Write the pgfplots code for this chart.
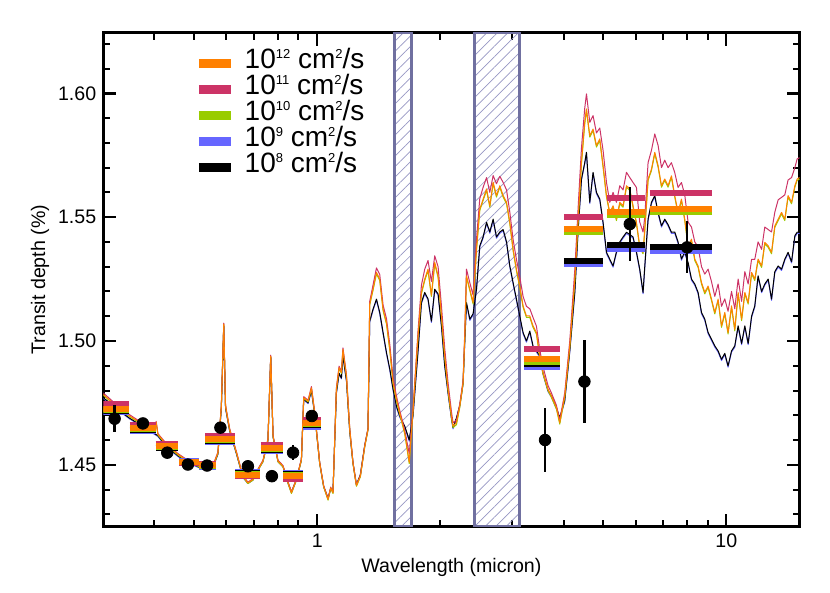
\documentclass[border=0pt]{standalone}
\usepackage{fontspec}
\setmainfont{Liberation Sans}
\usepackage{pgfplots}
\pgfplotsset{compat=1.18}
\usepackage{pgfplotstable}
\usetikzlibrary{patterns.meta}
\definecolor{corange}{RGB}{255,128,0}
\definecolor{cred}{RGB}{204,51,102}
\definecolor{cgreen}{RGB}{153,204,0}
\definecolor{cblue}{RGB}{102,102,255}
\definecolor{bandedge}{RGB}{112,112,160}
\definecolor{bandhatch}{RGB}{150,150,195}
\newcommand\sps[1]{\raisebox{4.8pt}{\fontsize{6.5}{6.5}\selectfont #1}}

\pgfplotstableread{
x or rd gr bk bl
0.300 1.4784 1.4790 1.4781 1.4771 1.4768
0.323 1.4737 1.4743 1.4734 1.4728 1.4725
0.348 1.4697 1.4702 1.4694 1.4688 1.4685
0.375 1.4663 1.4667 1.4660 1.4655 1.4652
0.401 1.4656 1.4659 1.4653 1.4625 1.4622
0.404 1.4672 1.4675 1.4669 1.4622 1.4619
0.408 1.4623 1.4626 1.4620 1.4617 1.4614
0.428 1.4582 1.4585 1.4579 1.4575 1.4572
0.457 1.4542 1.4545 1.4539 1.4536 1.4533
0.483 1.4515 1.4518 1.4512 1.4510 1.4507
0.516 1.4494 1.4497 1.4491 1.4490 1.4487
0.556 1.4494 1.4497 1.4491 1.4490 1.4487
0.572 1.4549 1.4552 1.4546 1.4545 1.4542
0.583 1.4737 1.4740 1.4734 1.4730 1.4727
0.591 1.5068 1.5072 1.5065 1.5060 1.5057
0.597 1.4737 1.4740 1.4734 1.4730 1.4727
0.611 1.4643 1.4646 1.4640 1.4638 1.4635
0.635 1.4549 1.4552 1.4546 1.4545 1.4542
0.658 1.4454 1.4457 1.4451 1.4452 1.4449
0.677 1.4427 1.4430 1.4424 1.4427 1.4424
0.697 1.4441 1.4444 1.4438 1.4441 1.4438
0.717 1.4481 1.4484 1.4478 1.4481 1.4478
0.737 1.4515 1.4518 1.4512 1.4515 1.4512
0.758 1.4602 1.4605 1.4599 1.4600 1.4597
0.770 1.4939 1.4943 1.4936 1.4935 1.4932
0.780 1.4616 1.4619 1.4613 1.4614 1.4611
0.802 1.4515 1.4518 1.4512 1.4515 1.4512
0.825 1.4494 1.4497 1.4491 1.4494 1.4491
0.849 1.4427 1.4430 1.4424 1.4427 1.4424
0.865 1.4387 1.4390 1.4384 1.4390 1.4387
0.890 1.4441 1.4444 1.4438 1.4441 1.4438
0.915 1.4521 1.4524 1.4518 1.4521 1.4518
0.927 1.4771 1.4775 1.4768 1.4765 1.4762
0.950 1.4757 1.4761 1.4754 1.4750 1.4747
0.968 1.4811 1.4816 1.4808 1.4800 1.4797
0.986 1.4710 1.4714 1.4707 1.4705 1.4702
1.014 1.4508 1.4511 1.4505 1.4508 1.4505
1.037 1.4413 1.4416 1.4410 1.4413 1.4410
1.063 1.4360 1.4363 1.4357 1.4365 1.4362
1.079 1.4407 1.4410 1.4404 1.4405 1.4402
1.093 1.4387 1.4390 1.4384 1.4395 1.4392
1.114 1.4805 1.4810 1.4802 1.4790 1.4787
1.131 1.4892 1.4898 1.4889 1.4870 1.4867
1.146 1.4872 1.4878 1.4869 1.4850 1.4847
1.156 1.4966 1.4972 1.4963 1.4940 1.4937
1.179 1.4858 1.4864 1.4855 1.4840 1.4837
1.201 1.4643 1.4648 1.4640 1.4635 1.4632
1.223 1.4508 1.4511 1.4505 1.4508 1.4505
1.247 1.4416 1.4419 1.4413 1.4420 1.4417
1.275 1.4454 1.4457 1.4451 1.4460 1.4457
1.307 1.4575 1.4578 1.4572 1.4580 1.4577
1.331 1.4643 1.4646 1.4640 1.4645 1.4642
1.344 1.5150 1.5160 1.5145 1.5080 1.5075
1.369 1.5209 1.5225 1.5204 1.5128 1.5123
1.396 1.5277 1.5295 1.5271 1.5169 1.5164
1.422 1.5250 1.5268 1.5244 1.5115 1.5110
1.449 1.5128 1.5145 1.5122 1.5034 1.5029
1.477 1.5074 1.5090 1.5068 1.4953 1.4948
1.505 1.4966 1.4985 1.4960 1.4886 1.4881
1.533 1.4832 1.4850 1.4826 1.4805 1.4800
1.562 1.4764 1.4778 1.4758 1.4737 1.4732
1.591 1.4710 1.4720 1.4705 1.4697 1.4692
1.637 1.4629 1.4638 1.4624 1.4656 1.4651
1.679 1.4510 1.4545 1.4505 1.4600 1.4595
1.715 1.4720 1.4725 1.4715 1.4700 1.4695
1.764 1.5020 1.5040 1.5014 1.4960 1.4955
1.798 1.5196 1.5225 1.5190 1.5155 1.5150
1.832 1.5250 1.5290 1.5244 1.5196 1.5191
1.866 1.5290 1.5325 1.5284 1.5170 1.5165
1.902 1.5185 1.5240 1.5180 1.5080 1.5075
1.938 1.5317 1.5344 1.5311 1.5209 1.5204
1.975 1.5263 1.5300 1.5257 1.5190 1.5185
2.013 1.5101 1.5140 1.5095 1.5060 1.5055
2.050 1.4939 1.4970 1.4933 1.4900 1.4895
2.089 1.4805 1.4830 1.4799 1.4790 1.4785
2.129 1.4697 1.4715 1.4691 1.4690 1.4685
2.148 1.4656 1.4670 1.4650 1.4650 1.4645
2.190 1.4670 1.4680 1.4662 1.4690 1.4685
2.231 1.4737 1.4745 1.4731 1.4740 1.4735
2.273 1.4832 1.4840 1.4826 1.4830 1.4825
2.295 1.5020 1.5040 1.5014 1.5000 1.4995
2.317 1.5263 1.5290 1.5257 1.5155 1.5150
2.361 1.5209 1.5235 1.5203 1.5088 1.5083
2.405 1.5155 1.5185 1.5149 1.5110 1.5105
2.451 1.5371 1.5410 1.5365 1.5209 1.5204
2.497 1.5533 1.5575 1.5527 1.5384 1.5379
2.544 1.5573 1.5620 1.5567 1.5420 1.5415
2.594 1.5614 1.5660 1.5608 1.5479 1.5474
2.642 1.5546 1.5600 1.5540 1.5440 1.5435
2.692 1.5641 1.5668 1.5635 1.5492 1.5487
2.743 1.5587 1.5635 1.5581 1.5420 1.5415
2.795 1.5627 1.5665 1.5621 1.5440 1.5435
2.848 1.5587 1.5640 1.5581 1.5450 1.5445
2.903 1.5560 1.5610 1.5554 1.5400 1.5395
2.957 1.5479 1.5520 1.5473 1.5303 1.5298
3.012 1.5371 1.5410 1.5365 1.5236 1.5231
3.069 1.5290 1.5330 1.5284 1.5169 1.5164
3.127 1.5222 1.5260 1.5216 1.5101 1.5096
3.186 1.5142 1.5180 1.5136 1.5034 1.5029
3.247 1.5101 1.5140 1.5095 1.5000 1.4995
3.309 1.5101 1.5130 1.5095 1.5040 1.5035
3.370 1.5061 1.5095 1.5055 1.4980 1.4975
3.435 1.5034 1.5060 1.5028 1.4960 1.4955
3.500 1.4939 1.4965 1.4933 1.4940 1.4935
3.565 1.4872 1.4895 1.4866 1.4870 1.4865
3.667 1.4805 1.4820 1.4799 1.4800 1.4795
3.738 1.4778 1.4790 1.4772 1.4778 1.4773
3.844 1.4731 1.4740 1.4725 1.4731 1.4726
3.917 1.4670 1.4680 1.4664 1.4690 1.4685
4.028 1.4778 1.4790 1.4772 1.4760 1.4755
4.144 1.4980 1.5000 1.4974 1.4960 1.4955
4.264 1.5250 1.5290 1.5244 1.5200 1.5195
4.344 1.5492 1.5540 1.5486 1.5452 1.5447
4.426 1.5722 1.5780 1.5716 1.5654 1.5649
4.508 1.5883 1.5940 1.5877 1.5720 1.5715
4.552 1.5937 1.5998 1.5931 1.5762 1.5757
4.638 1.5829 1.5883 1.5823 1.5560 1.5555
4.724 1.5856 1.5910 1.5850 1.5681 1.5676
4.815 1.5789 1.5840 1.5783 1.5600 1.5595
4.906 1.5816 1.5860 1.5810 1.5573 1.5568
4.998 1.5708 1.5770 1.5702 1.5479 1.5474
5.095 1.5587 1.5640 1.5581 1.5358 1.5353
5.191 1.5519 1.5560 1.5513 1.5330 1.5325
5.287 1.5546 1.5600 1.5540 1.5303 1.5298
5.389 1.5492 1.5560 1.5486 1.5360 1.5355
5.491 1.5560 1.5627 1.5554 1.5400 1.5395
5.594 1.5546 1.5610 1.5540 1.5420 1.5415
5.702 1.5627 1.5681 1.5621 1.5439 1.5434
5.809 1.5614 1.5660 1.5608 1.5430 1.5425
5.917 1.5546 1.5640 1.5540 1.5420 1.5415
6.031 1.5479 1.5620 1.5473 1.5360 1.5355
6.144 1.5384 1.5480 1.5378 1.5290 1.5285
6.260 1.5358 1.5440 1.5352 1.5196 1.5191
6.320 1.5450 1.5500 1.5444 1.5300 1.5295
6.439 1.5654 1.5720 1.5648 1.5492 1.5487
6.563 1.5694 1.5770 1.5688 1.5560 1.5555
6.687 1.5762 1.5836 1.5756 1.5587 1.5582
6.812 1.5708 1.5790 1.5702 1.5519 1.5514
6.944 1.5627 1.5700 1.5621 1.5465 1.5460
7.073 1.5654 1.5730 1.5648 1.5492 1.5487
7.206 1.5627 1.5700 1.5621 1.5470 1.5465
7.345 1.5667 1.5720 1.5661 1.5439 1.5434
7.483 1.5587 1.5680 1.5581 1.5440 1.5435
7.624 1.5519 1.5620 1.5513 1.5400 1.5395
7.771 1.5573 1.5640 1.5567 1.5331 1.5326
7.916 1.5492 1.5590 1.5486 1.5360 1.5355
8.065 1.5384 1.5480 1.5378 1.5317 1.5312
8.221 1.5411 1.5460 1.5405 1.5250 1.5245
8.375 1.5331 1.5400 1.5325 1.5230 1.5225
8.533 1.5303 1.5380 1.5297 1.5196 1.5191
8.698 1.5236 1.5300 1.5230 1.5115 1.5110
8.860 1.5196 1.5270 1.5190 1.5088 1.5083
9.027 1.5222 1.5290 1.5216 1.5034 1.5029
9.201 1.5169 1.5240 1.5163 1.5007 1.5002
9.374 1.5115 1.5180 1.5109 1.4980 1.4975
9.550 1.5169 1.5230 1.5163 1.4960 1.4955
9.735 1.5061 1.5140 1.5055 1.4926 1.4921
9.916 1.5115 1.5170 1.5109 1.4950 1.4945
10.10 1.5034 1.5120 1.5028 1.4899 1.4894
10.30 1.5142 1.5200 1.5136 1.4960 1.4955
10.49 1.5047 1.5130 1.5041 1.4980 1.4975
10.69 1.5196 1.5250 1.5190 1.5061 1.5056
10.90 1.5088 1.5160 1.5082 1.4990 1.4985
11.10 1.5196 1.5280 1.5190 1.5061 1.5056
11.31 1.5155 1.5230 1.5149 1.4990 1.4985
11.53 1.5277 1.5330 1.5271 1.5100 1.5095
11.74 1.5250 1.5330 1.5244 1.5142 1.5137
11.96 1.5331 1.5400 1.5325 1.5263 1.5258
12.20 1.5303 1.5370 1.5297 1.5200 1.5195
12.42 1.5398 1.5460 1.5392 1.5230 1.5225
12.66 1.5384 1.5450 1.5378 1.5250 1.5245
12.90 1.5358 1.5440 1.5352 1.5169 1.5164
13.14 1.5465 1.5520 1.5459 1.5280 1.5275
13.39 1.5492 1.5570 1.5486 1.5303 1.5298
13.65 1.5519 1.5580 1.5513 1.5290 1.5285
13.90 1.5492 1.5590 1.5486 1.5330 1.5325
14.16 1.5587 1.5650 1.5581 1.5358 1.5353
14.44 1.5560 1.5660 1.5554 1.5320 1.5315
14.71 1.5627 1.5700 1.5621 1.5425 1.5420
14.90 1.5654 1.5735 1.5648 1.5439 1.5434
15.10 1.5660 1.5740 1.5654 1.5440 1.5435
}\spec

\pgfplotstableread{
x y e
0.3198 1.4686 0.0054
0.375 1.4667 0.0020
0.430 1.4549 0.0012
0.483 1.4501 0.0010
0.538 1.4497 0.0010
0.580 1.4650 0.0015
0.677 1.4494 0.0012
0.775 1.4454 0.0012
0.873 1.4549 0.0030
0.970 1.4697 0.0015
3.606 1.4600 0.0128
4.50 1.4836 0.0168
5.81 1.5472 0.0148
8.02 1.5378 0.0105
}\obs

\begin{document}
\begin{tikzpicture}
\useasboundingbox (-51.65pt,-33.15pt) rectangle (363.35pt,263.35pt);
\begin{axis}[
  at={(0pt,0pt)}, anchor=south west,
  scale only axis, width=348.1pt, height=247pt,
  xmode=log, xmin=0.3, xmax=15.1, ymin=1.425, ymax=1.6245,
  axis line style={line width=1.5pt},
  tick align=inside,
  major tick length=6.5pt, minor tick length=3.5pt,
  major tick style={line width=1.2pt, black},
  minor tick style={line width=1.0pt, black},
  xtick={1,10}, xticklabels={1,10},
  minor xtick={0.4,0.5,0.6,0.7,0.8,0.9,2,3,4,5,6,7,8,9},
  ytick={1.45,1.50,1.55,1.60},
  minor ytick={1.43,1.44,1.46,1.47,1.48,1.49,1.51,1.52,1.53,1.54,1.56,1.57,1.58,1.59,1.61,1.62},
  yticklabel style={/pgf/number format/.cd, fixed, fixed zerofill, precision=2},
  /pgf/number format/assume math mode=true,
  tick label style={font=\fontsize{9.8}{11}\selectfont},
  label style={font=\fontsize{9.8}{11}\selectfont},
  xlabel={Wavelength (micron)}, ylabel={Transit depth (\%)},
  x label style={at={(axis description cs:0.5,-0.0816)}, anchor=center},
  y label style={at={(axis description cs:-0.0909,0.5)}, anchor=center},
  legend style={draw=none, fill=none, at={(axis description cs:0.1307,0.9670)}, anchor=north west,
    font=\fontsize{14}{14}\selectfont, row sep=1.2pt, column sep=4.5pt, inner sep=0pt,
    nodes={inner sep=0pt, text height=9.6pt, text depth=2.2pt}},
  legend cell align=left,
  legend image code/.code={\draw[#1, line width=4.3pt] (0pt,-1.2pt) -- (16.2pt,-1.2pt);},
]
% legend entries
\addlegendimage{corange}\addlegendentry{10\sps{12} cm\sps{2}/s}
\addlegendimage{cred}\addlegendentry{10\sps{11} cm\sps{2}/s}
\addlegendimage{cgreen}\addlegendentry{10\sps{10} cm\sps{2}/s}
\addlegendimage{cblue}\addlegendentry{10\sps{9} cm\sps{2}/s}
\addlegendimage{black}\addlegendentry{10\sps{8} cm\sps{2}/s}

% shaded bands
\addplot[draw=bandedge, line width=1.5pt, pattern={Lines[angle=45,distance=3.7pt,line width=0.35pt]}, pattern color=bandhatch, forget plot]
  coordinates {(1.547,1.425) (1.705,1.425) (1.705,1.6245) (1.547,1.6245)} -- cycle;
\addplot[draw=bandedge, line width=1.5pt, pattern={Lines[angle=45,distance=3.7pt,line width=0.35pt]}, pattern color=bandhatch, forget plot]
  coordinates {(2.427,1.425) (3.114,1.425) (3.114,1.6245) (2.427,1.6245)} -- cycle;

% spectra
\addplot[cblue, line width=0.5pt, line join=round, forget plot] table[x=x,y=bl]{\spec};
\addplot[black, line width=0.5pt, line join=round, forget plot] table[x=x,y=bk]{\spec};
\addplot[cgreen, line width=0.5pt, line join=round, forget plot] table[x=x,y=gr]{\spec};
\addplot[cred, line width=0.5pt, line join=round, forget plot] table[x=x,y=rd]{\spec};
\addplot[corange, line width=0.5pt, line join=round, forget plot] table[x=x,y=or]{\spec};

% binned models
\addplot[cblue, line width=3pt, unbounded coords=jump, forget plot] coordinates {
(0.300,1.4712)(0.347,1.4712)(0.347,nan)
(0.348,1.4636)(0.403,1.4636)(0.403,nan)
(0.403,1.4566)(0.458,1.4566)(0.458,nan)
(0.459,1.4516)(0.513,1.4516)(0.513,nan)
(0.513,1.4492)(0.567,1.4492)(0.567,nan)
(0.533,1.4592)(0.630,1.4592)(0.630,nan)
(0.630,1.4472)(0.726,1.4472)(0.726,nan)
(0.727,1.4556)(0.825,1.4556)(0.825,nan)
(0.825,1.4468)(0.923,1.4468)(0.923,nan)
(0.923,1.4654)(1.021,1.4654)(1.021,nan)
(3.20,1.4893)(3.92,1.4893)(3.92,nan)
(4.01,1.5310)(5.00,1.5310)(5.00,nan)
(5.11,1.5371)(6.32,1.5371)(6.32,nan)
(6.50,1.5364)(9.23,1.5364)};
\addplot[black, line width=3pt, unbounded coords=jump, forget plot] coordinates {
(0.300,1.4718)(0.347,1.4718)(0.347,nan)
(0.348,1.4640)(0.403,1.4640)(0.403,nan)
(0.403,1.4569)(0.458,1.4569)(0.458,nan)
(0.459,1.4513)(0.513,1.4513)(0.513,nan)
(0.513,1.4494)(0.567,1.4494)(0.567,nan)
(0.533,1.4597)(0.630,1.4597)(0.630,nan)
(0.630,1.4467)(0.726,1.4467)(0.726,nan)
(0.727,1.4561)(0.825,1.4561)(0.825,nan)
(0.825,1.4463)(0.923,1.4463)(0.923,nan)
(0.923,1.4660)(1.021,1.4660)(1.021,nan)
(3.20,1.4906)(3.92,1.4906)(3.92,nan)
(4.01,1.5321)(5.00,1.5321)(5.00,nan)
(5.11,1.5387)(6.32,1.5387)(6.32,nan)
(6.50,1.5378)(9.23,1.5378)};
\addplot[cgreen, line width=3pt, unbounded coords=jump, forget plot] coordinates {
(0.300,1.4722)(0.347,1.4722)(0.347,nan)
(0.348,1.4644)(0.403,1.4644)(0.403,nan)
(0.403,1.4572)(0.458,1.4572)(0.458,nan)
(0.459,1.4511)(0.513,1.4511)(0.513,nan)
(0.513,1.4496)(0.567,1.4496)(0.567,nan)
(0.533,1.4601)(0.630,1.4601)(0.630,nan)
(0.630,1.4463)(0.726,1.4463)(0.726,nan)
(0.727,1.4565)(0.825,1.4565)(0.825,nan)
(0.825,1.4458)(0.923,1.4458)(0.923,nan)
(0.923,1.4666)(1.021,1.4666)(1.021,nan)
(3.20,1.4917)(3.92,1.4917)(3.92,nan)
(4.01,1.5441)(5.00,1.5441)(5.00,nan)
(5.11,1.5508)(6.32,1.5508)(6.32,nan)
(6.50,1.5522)(9.23,1.5522)};
\addplot[cred, line width=3pt, unbounded coords=jump, forget plot] coordinates {
(0.300,1.4744)(0.347,1.4744)(0.347,nan)
(0.348,1.4660)(0.403,1.4660)(0.403,nan)
(0.403,1.4585)(0.458,1.4585)(0.458,nan)
(0.459,1.4506)(0.513,1.4506)(0.513,nan)
(0.513,1.4502)(0.567,1.4502)(0.567,nan)
(0.533,1.4618)(0.630,1.4618)(0.630,nan)
(0.630,1.4455)(0.726,1.4455)(0.726,nan)
(0.727,1.4581)(0.825,1.4581)(0.825,nan)
(0.825,1.4441)(0.923,1.4441)(0.923,nan)
(0.923,1.4681)(1.021,1.4681)(1.021,nan)
(3.20,1.4969)(3.92,1.4969)(3.92,nan)
(4.01,1.5499)(5.00,1.5499)(5.00,nan)
(5.11,1.5576)(6.32,1.5576)(6.32,nan)
(6.50,1.5597)(9.23,1.5597)};
\addplot[corange, line width=3pt, unbounded coords=jump, forget plot] coordinates {
(0.300,1.4726)(0.347,1.4726)(0.347,nan)
(0.348,1.4648)(0.403,1.4648)(0.403,nan)
(0.403,1.4575)(0.458,1.4575)(0.458,nan)
(0.459,1.4510)(0.513,1.4510)(0.513,nan)
(0.513,1.4498)(0.567,1.4498)(0.567,nan)
(0.533,1.4605)(0.630,1.4605)(0.630,nan)
(0.630,1.4460)(0.726,1.4460)(0.726,nan)
(0.727,1.4569)(0.825,1.4569)(0.825,nan)
(0.825,1.4454)(0.923,1.4454)(0.923,nan)
(0.923,1.4670)(1.021,1.4670)(1.021,nan)
(3.20,1.4929)(3.92,1.4929)(3.92,nan)
(4.01,1.5452)(5.00,1.5452)(5.00,nan)
(5.11,1.5519)(6.32,1.5519)(6.32,nan)
(6.50,1.5533)(9.23,1.5533)};

% observations
\addplot[black, only marks, mark=*, mark size=2.9pt, forget plot,
  error bars/.cd, y dir=both, y explicit, error mark=none,
  error bar style={line width=1.3pt, black}]
  table[x=x, y=y, y error=e]{\obs};
\end{axis}
\end{tikzpicture}
\end{document}
